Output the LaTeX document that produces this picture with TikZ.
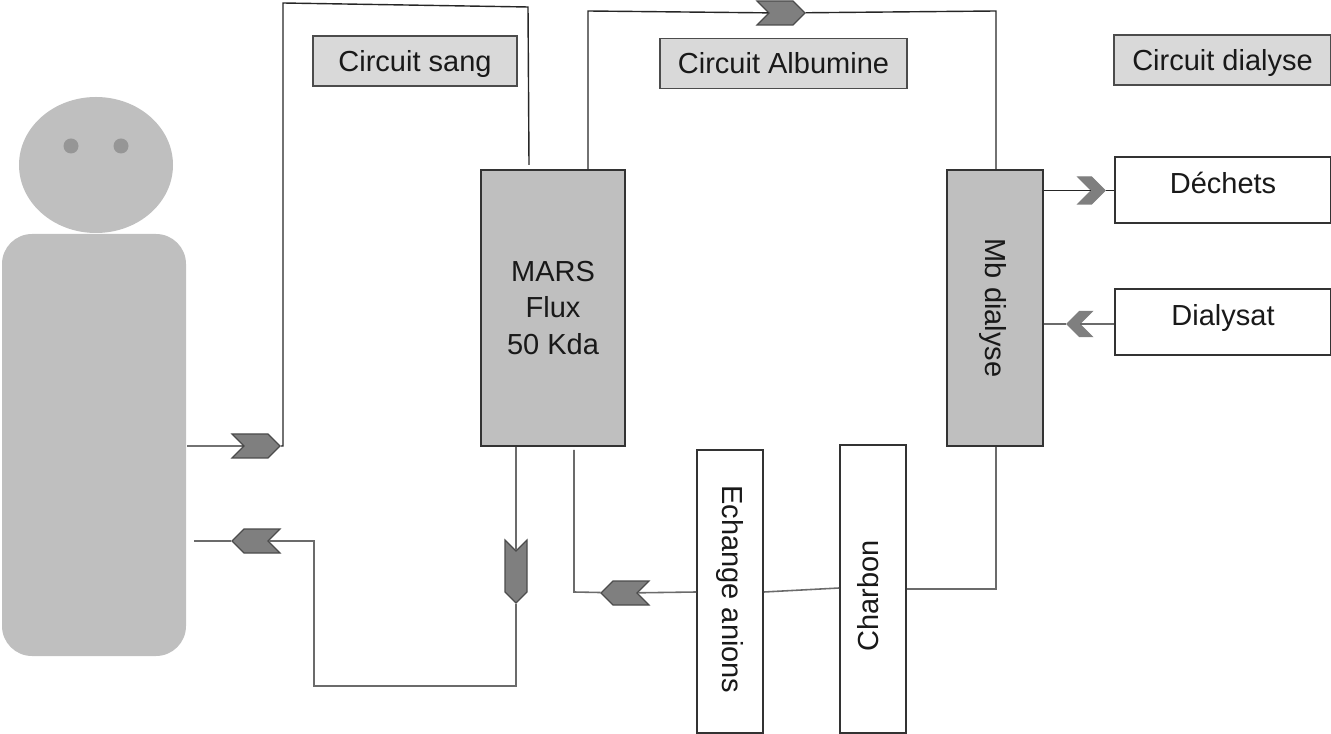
\documentclass[tikz,border=0pt]{standalone}
\usepackage{fontspec}
\setmainfont{Liberation Sans}
\usetikzlibrary{arrows.meta, positioning, shapes.geometric, shapes.symbols, calc}
\definecolor{cbox}{HTML}{BFBFBF}
\definecolor{clabel}{HTML}{D9D9D9}
\definecolor{cmark}{HTML}{7F7F7F}
\definecolor{cline}{HTML}{6B6B6B}
\definecolor{ceye}{HTML}{969696}
\tikzset{
  every picture/.style={line width=0.7pt},
  every node/.style={font=\fontsize{16.5}{21}\selectfont, text=black!90},
  box/.style={draw=black!80, line width=0.9pt, fill=#1, align=center, inner sep=0pt},
  box/.default=cbox,
  tag/.style={box=clabel, draw=black!70, minimum height=1cm, text height=0.5cm, text depth=0.08cm},
  flow/.style={draw=cline, line width=0.9pt},
  flowdark/.style={draw=black!85, line width=0.8pt},
  wide/.style={shape=signal, signal pointer angle=90, draw=black!70, fill=cmark, inner sep=0pt, minimum width=0.96cm, minimum height=0.48cm, signal from=#1},
  slim/.style={shape=signal, signal pointer angle=90, draw=cmark, fill=cmark, inner sep=0pt, minimum width=0.46cm, minimum height=0.54cm, signal from=#1},
  person/.style={draw=none, fill=cbox},
  eye/.style={person, circle, fill=ceye, minimum size=0.3cm, inner sep=0pt},
  sidebox/.style={box=white, minimum width=4.32cm, minimum height=1.32cm, text depth=0.45cm, text height=0.6cm},
}
\begin{document}
\begin{tikzpicture}
  \useasboundingbox (0,0) rectangle (26.62,14.66);
  \node[person, ellipse, minimum width=3.08cm, minimum height=2.72cm] (head) at (1.92,11.36) {};
  \node[eye] (eyeL) at (1.42,11.74) {};
  \node[eye] (eyeR) at (2.42,11.74) {};
  \node[person, rectangle, rounded corners=0.6cm, minimum width=3.68cm, minimum height=8.44cm] (body) at (1.88,5.76) {};

  \node[tag, minimum width=4.08cm] (sang) at (8.3,13.44) {Circuit sang};
  \node[tag, minimum width=4.94cm] (albumine) at (15.67,13.39) {Circuit Albumine};
  \node[tag, minimum width=4.34cm] (dialyse) at (24.45,13.46) {Circuit dialyse};

  \node[box, minimum width=2.88cm, minimum height=5.52cm] (mars) at (11.06,8.5) {MARS\\Flux\\50 Kda};
  \node[box, minimum width=1.92cm, minimum height=5.52cm] (mb) at (19.9,8.5) {};
  \node[rotate=-90] (mbtext) at (19.86,8.5) {Mb dialyse};
  \node[box=white, minimum width=1.32cm, minimum height=5.66cm] (echange) at (14.6,2.83) {};
  \node[rotate=-90] (echangetext) at (14.6,2.87) {Echange anions};
  \node[box=white, minimum width=1.32cm, minimum height=5.76cm] (charbon) at (17.46,2.88) {};
  \node[rotate=90] (charbontext) at (17.36,2.74) {Charbon};
  \node[sidebox] (dechets) at (24.46,10.86) {Déchets};
  \node[sidebox] (dialysat) at (24.46,8.22) {Dialysat};

  \node[wide=west] (mA) at (5.12,5.74) {};
  \node[wide=east, signal to=west] (mB) at (5.12,3.84) {};
  \node[wide=north, signal to=south, minimum width=0.44cm, minimum height=0.82cm] (mC) at (10.32,3.23) {};
  \node[wide=east, signal to=west] (mD) at (12.5,2.8) {};
  \node[wide=west] (mE) at (15.62,14.4) {};
  \node[slim=west] (mF) at (21.83,10.85) {};
  \node[slim=east, signal to=west, minimum height=0.5cm] (mG) at (21.59,8.18) {};

  \coordinate (a1) at (3.74,5.74);
  \coordinate (a2) at (5.66,5.74);
  \coordinate (a3) at (5.66,14.6);
  \coordinate (a4) at (10.56,14.52);
  \coordinate (a5) at (10.58,11.36);
  \draw[flowdark] (a1) -- (mA) -- (a2) -- (a3) -- (a4) -- (a5);
  \coordinate (b1) at (3.88,3.84);
  \coordinate (b2) at (6.28,3.84);
  \coordinate (b3) at (6.28,0.94);
  \coordinate (b4) at (10.32,0.94);
  \draw[flow] (mars.south -| mC) -- (mC);
  \draw[flow] (mC) -- (b4) -- (b3) -- (b2) -- (mB) -- (b1);
  \coordinate (c1) at (11.48,5.66);
  \coordinate (c2) at (11.48,2.82);
  \draw[flow] (echange.west |- 0,2.82) -- (mD) -- (c2) -- (c1);
  \draw[flow] (echange.east |- 0,2.82) -- (charbon.west |- 0,2.9);
  \coordinate (d1) at (19.92,2.88);
  \draw[flow] (charbon.east |- d1) -- (d1) -- (mb.south -| d1);
  \coordinate (e1) at (19.92,14.44);
  \coordinate (e2) at (11.76,14.44);
  \draw[flowdark] (mb.north -| e1) -- (e1) -- (mE) -- (e2) -- (mars.north -| e2);
  \draw[flowdark] (mb.east |- mF) -- (mF) -- (dechets.west |- mF);
  \draw[flow] (dialysat.west |- mG) -- (mG) -- (mb.east |- mG);
\end{tikzpicture}
\end{document}
